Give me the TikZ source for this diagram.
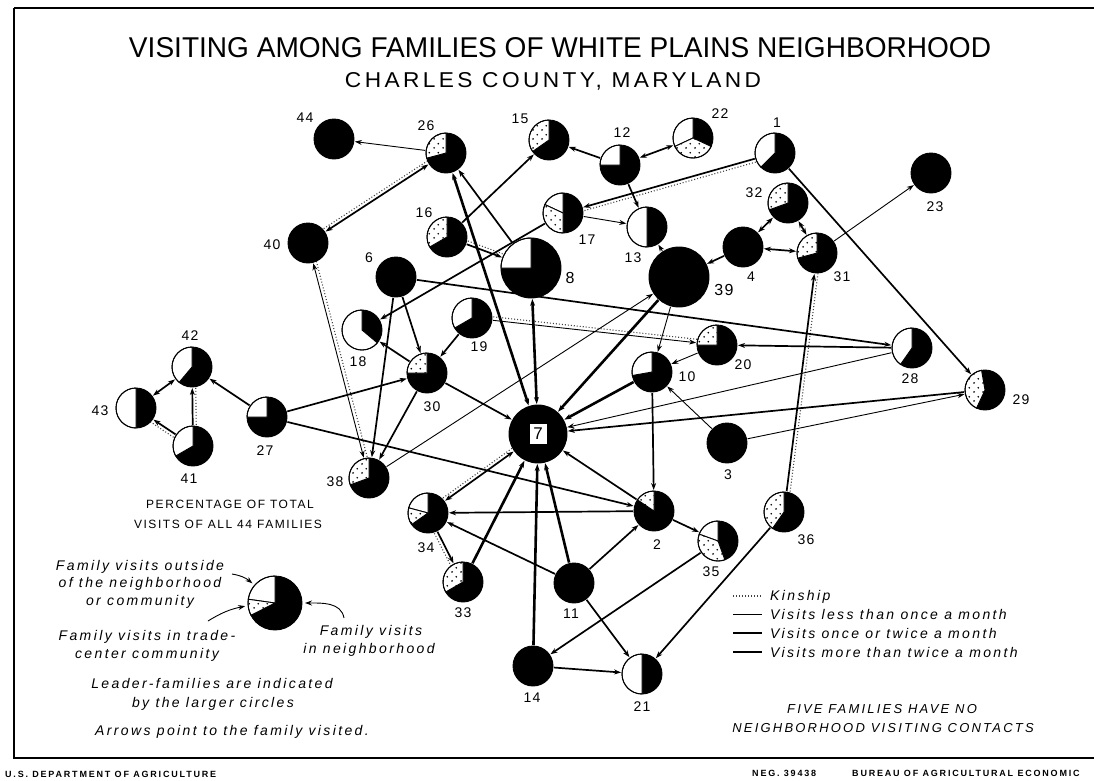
\documentclass[tikz,border=0pt]{standalone}
\usepackage{fontspec}
\setmainfont{Liberation Sans}
\newfontfamily\numfont[LetterSpace=8]{Liberation Sans}
\newfontfamily\legfont[LetterSpace=17]{Liberation Sans}
\newfontfamily\capfont[LetterSpace=13]{Liberation Sans}
\newfontfamily\subfont[LetterSpace=15]{Liberation Sans}
\newfontfamily\footfont[LetterSpace=20]{Liberation Sans}
\usetikzlibrary{arrows.meta,calc,patterns.meta}

\tikzdeclarepattern{
  name=sparsedots,
  type=uncolored,
  bottom left={(0pt,0pt)},
  top right={(9pt,9pt)},
  tile size={(9pt,9pt)},
  code={\fill (2.25pt,2.25pt) circle[radius=1pt]; \fill (6.75pt,6.75pt) circle[radius=1pt];}
}

\newcommand\famdisc[2]{\fill[black] (#1.center) circle[radius=#2];}
\newcommand\wsec[4]{\filldraw[pieline,fill=white] (#1.center) -- ++(#3:#2) arc[start angle=#3,end angle=#4,radius=#2] -- cycle;}
\newcommand\dsec[4]{\filldraw[pieline,fill=white] (#1.center) -- ++(#3:#2) arc[start angle=#3,end angle=#4,radius=#2] -- cycle;
  \fill[pattern=sparsedots] (#1.center) -- ++(#3:#2) arc[start angle=#3,end angle=#4,radius=#2] -- cycle;}
\newcommand\ring[2]{\draw[pieline] (#1.center) circle[radius=#2];}
\newcommand\kinline[3]{\draw[kinl] ($(#1.center)!#3!90:(#2.center)$) -- ($(#2.center)!#3!-90:(#1.center)$);}

\begin{document}
\begin{tikzpicture}[x=1pt,y=1pt,
  fam/.style={circle,inner sep=0pt,outer sep=1pt,minimum size=40pt},
  bigfam/.style={fam,minimum size=60pt},
  lab/.style={inner sep=0pt,font=\numfont\fontsize{14}{14}\selectfont},
  biglab/.style={inner sep=0pt,font=\numfont\fontsize{16}{16}\selectfont},
  thinv/.style={line width=0.9pt},
  medv/.style={line width=1.7pt},
  thickv/.style={line width=2.6pt},
  tip/.style={-{Stealth[length=7pt,width=5pt]}},
  tips/.style={{Stealth[length=7pt,width=5pt]}-{Stealth[length=7pt,width=5pt]}},
  kinl/.style={line width=1.1pt,black!75,dash pattern=on 1pt off 2pt},
  pieline/.style={line width=0.9pt,draw=black},
  leg/.style={inner sep=0pt,font=\legfont\itshape\fontsize{14}{14}\selectfont},
  legcap/.style={inner sep=0pt,font=\capfont\fontsize{12}{12}\selectfont},
  foot/.style={inner sep=0pt,font=\footfont\bfseries\fontsize{9}{9}\selectfont},
]
\useasboundingbox (0,0) rectangle (1094,-780);
\fill[white] (0,0) rectangle (1094,-780);

% ---------- family nodes ----------
\node[fam] (n1) at (775,-153) {};
\node[fam] (n2) at (654,-511) {};
\node[fam] (n3) at (727,-443) {};
\node[fam] (n4) at (743,-247) {};
\node[fam] (n6) at (396,-277) {};
\node[fam,minimum size=58pt] (n7) at (538,-434) {};
\node[bigfam] (n8) at (531,-268) {};
\node[fam] (n10) at (652,-372) {};
\node[fam] (n11) at (574,-583) {};
\node[fam] (n12) at (620,-165) {};
\node[fam] (n13) at (647,-227) {};
\node[fam] (n14) at (533,-666) {};
\node[fam] (n15) at (549,-140) {};
\node[fam] (n16) at (447,-237) {};
\node[fam] (n17) at (563,-213) {};
\node[fam] (n18) at (362,-330) {};
\node[fam] (n19) at (472,-318) {};
\node[fam] (n20) at (717,-345) {};
\node[fam] (n21) at (642,-674) {};
\node[fam] (n22) at (693,-138) {};
\node[fam] (n23) at (931,-173) {};
\node[fam] (n26) at (446,-153) {};
\node[fam] (n27) at (267,-417) {};
\node[fam] (n28) at (912,-348) {};
\node[fam] (n29) at (985,-390) {};
\node[fam] (n30) at (427,-373) {};
\node[fam] (n31) at (817,-253) {};
\node[fam] (n32) at (788,-203) {};
\node[fam] (n33) at (463,-582) {};
\node[fam] (n34) at (428,-513) {};
\node[fam] (n35) at (718,-541) {};
\node[fam] (n36) at (784,-512) {};
\node[fam] (n38) at (369,-478) {};
\node[bigfam] (n39) at (679,-277) {};
\node[fam] (n40) at (308,-243) {};
\node[fam] (n41) at (193,-446) {};
\node[fam] (n42) at (192,-367) {};
\node[fam] (n43) at (136,-408) {};
\node[fam] (n44) at (334,-139) {};
\node[fam,minimum size=54pt,outer sep=3pt] (lp) at (275,-603) {};

% ---------- kinship lines ----------
\kinline{n40}{n26}{3.5pt}
\kinline{n1}{n17}{3.5pt}
\kinline{n16}{n8}{3.5pt}
\kinline{n19}{n20}{3.5pt}
\kinline{n41}{n42}{-3.5pt}
\kinline{n41}{n43}{3.5pt}
\kinline{n38}{n40}{-3.5pt}
\kinline{n34}{n7}{3.5pt}
\kinline{n34}{n33}{-3.5pt}
\kinline{n36}{n31}{-3.5pt}

% ---------- visiting lines ----------
\draw[thinv,tip] (n26) -- (n44);
\draw[medv,tips] (n40) -- (n26);
\draw[medv,tip] (n12) -- (n15);
\draw[medv,tips] (n12) -- (n22);
\draw[medv,tip] (n12) -- (n13);
\draw[medv,tip] (n1) -- (n17);
\draw[medv,tip] (n1) -- (n29);
\draw[thinv,tip] (n17) -- (n13);
\draw[medv,tip] (n17) -- (n18);
\draw[medv,tip] (n16) -- (n8);
\draw[medv,tip] (n16) -- (n15);
\draw[thickv,tips] (n26) -- (n7);
\draw[medv,tip] (n8) -- (n26);
\draw[medv,tip] (n6) -- (n28);
\draw[medv,tip] (n6) -- (n30);
\draw[medv,tip] (n6) -- (n38);
\draw[medv,tip] (n30) -- (n18);
\draw[medv,tip] (n19) -- (n30);
\draw[thinv,tip] (n19) -- (n20);
\draw[medv,tip] (n30) -- (n7);
\draw[medv,tip] (n27) -- (n30);
\draw[medv,tip] (n27) -- (n2);
\draw[medv,tip] (n27) -- (n42);
\draw[medv,tips] (n42) -- (n43);
\draw[medv,tip] (n41) -- (n42);
\draw[medv,tip] (n41) -- (n43);
\draw[medv,tip] (n30) -- (n38);
\draw[thinv,tips] (n38) -- (n40);
\draw[thinv,tip] (n38) -- (n39);
\draw[thickv,tip] (n39) -- (n7);
\draw[thinv,tip] (n39) -- (n10);
\draw[thinv,tip] (n39) -- (n13);
\draw[medv,tip] (n4) -- (n39);
\draw[medv,tips] (n4) -- (n32);
\draw[medv,tips] (n4) -- (n31);
\draw[medv,tips] (n32) -- (n31);
\draw[thinv,tip] (n31) -- (n23);
\draw[medv,tip] (n36) -- (n31);
\draw[thickv,tips] (n8) -- (n7);
\draw[medv,tip] (n28) -- (n20);
\draw[thinv,tip] (n20) -- (n10);
\draw[thinv,tip] (n28) -- (n7);
\draw[medv,tip] (n29) -- (n7);
\draw[thinv,tip] (n3) -- (n29);
\draw[thinv,tip] (n3) -- (n10);
\draw[thickv,tip] (n10) -- (n7);
\draw[medv,tip] (n10) -- (n2);
\draw[thickv,tip] (n11) -- (n7);
\draw[medv,tip] (n11) -- (n2);
\draw[medv,tip] (n11) -- (n34);
\draw[medv,tip] (n11) -- (n21);
\draw[thickv,tip] (n14) -- (n7);
\draw[medv,tip] (n14) -- (n21);
\draw[medv,tip] (n35) -- (n14);
\draw[medv,tip] (n36) -- (n21);
\draw[medv,tip] (n2) -- (n35);
\draw[medv,tip] (n2) -- (n34);
\draw[medv,tip] (n2) -- (n7);
\draw[medv,tips] (n34) -- (n7);
\draw[medv,tip] (n34) -- (n33);
\draw[thickv,tip] (n33) -- (n7);

% ---------- pies ----------
\famdisc{n44}{20}\ring{n44}{20}
\famdisc{n26}{20}\dsec{n26}{20}{90}{195}\ring{n26}{20}
\famdisc{n15}{20}\dsec{n15}{20}{90}{215}\ring{n15}{20}
\famdisc{n12}{20}\wsec{n12}{20}{90}{180}\ring{n12}{20}
\famdisc{n22}{20}\wsec{n22}{20}{90}{205}\dsec{n22}{20}{205}{335}\ring{n22}{20}
\famdisc{n1}{20}\wsec{n1}{20}{90}{225}\ring{n1}{20}
\famdisc{n23}{20}\ring{n23}{20}
\famdisc{n32}{20}\dsec{n32}{20}{90}{200}\ring{n32}{20}
\famdisc{n17}{20}\wsec{n17}{20}{90}{155}\dsec{n17}{20}{155}{270}\ring{n17}{20}
\famdisc{n13}{20}\wsec{n13}{20}{90}{270}\ring{n13}{20}
\famdisc{n16}{20}\dsec{n16}{20}{90}{210}\ring{n16}{20}
\famdisc{n40}{20}\ring{n40}{20}
\famdisc{n8}{30}\wsec{n8}{30}{90}{180}\ring{n8}{30}
\famdisc{n39}{30}\ring{n39}{30}
\famdisc{n4}{20}\ring{n4}{20}
\famdisc{n31}{20}\dsec{n31}{20}{90}{195}\ring{n31}{20}
\famdisc{n6}{20}\ring{n6}{20}
\famdisc{n18}{20}\wsec{n18}{20}{90}{320}\ring{n18}{20}
\famdisc{n19}{20}\wsec{n19}{20}{90}{210}\ring{n19}{20}
\famdisc{n30}{20}\dsec{n30}{20}{90}{180}\ring{n30}{20}
\famdisc{n20}{20}\dsec{n20}{20}{90}{180}\ring{n20}{20}
\famdisc{n10}{20}\wsec{n10}{20}{90}{190}\ring{n10}{20}
\famdisc{n28}{20}\wsec{n28}{20}{90}{235}\ring{n28}{20}
\famdisc{n29}{20}\dsec{n29}{20}{100}{245}\ring{n29}{20}
\famdisc{n7}{29}\ring{n7}{29}
\famdisc{n3}{20}\ring{n3}{20}
\famdisc{n42}{20}\wsec{n42}{20}{90}{230}\ring{n42}{20}
\famdisc{n43}{20}\wsec{n43}{20}{90}{270}\ring{n43}{20}
\famdisc{n41}{20}\wsec{n41}{20}{90}{210}\ring{n41}{20}
\famdisc{n27}{20}\wsec{n27}{20}{90}{180}\ring{n27}{20}
\famdisc{n38}{20}\dsec{n38}{20}{90}{200}\ring{n38}{20}
\famdisc{n34}{20}\wsec{n34}{20}{90}{165}\dsec{n34}{20}{165}{215}\ring{n34}{20}
\famdisc{n33}{20}\dsec{n33}{20}{90}{210}\ring{n33}{20}
\famdisc{n2}{20}\dsec{n2}{20}{90}{146}\ring{n2}{20}
\famdisc{n35}{20}\wsec{n35}{20}{90}{160}\dsec{n35}{20}{160}{290}\ring{n35}{20}
\famdisc{n36}{20}\dsec{n36}{20}{90}{235}\ring{n36}{20}
\famdisc{n11}{20}\ring{n11}{20}
\famdisc{n14}{20}\ring{n14}{20}
\famdisc{n21}{20}\wsec{n21}{20}{90}{270}\ring{n21}{20}
\famdisc{lp}{27}\wsec{lp}{27}{90}{172}\dsec{lp}{27}{172}{207}\ring{lp}{27}

\node[draw,fill=white,line width=1pt,minimum width=18pt,minimum height=21pt,inner sep=0pt,font=\fontsize{17}{17}\selectfont] (b7) at (n7.center) {7};

% ---------- labels ----------
\node[lab] (l44) at (305,-118) {44};
\node[lab] (l26) at (426,-126) {26};
\node[lab] (l15) at (520,-119) {15};
\node[lab] (l12) at (622,-133) {12};
\node[lab] (l22) at (720,-114) {22};
\node[lab] (l1) at (777,-123) {1};
\node[lab] (l32) at (754,-193) {32};
\node[lab] (l23) at (935,-207) {23};
\node[lab] (l16) at (424,-213) {16};
\node[lab] (l17) at (587,-240) {17};
\node[lab] (l13) at (633,-258) {13};
\node[lab] (l40) at (272,-245) {40};
\node[lab] (l6) at (369,-258) {6};
\node[biglab] (l8) at (570,-278) {8};
\node[biglab] (l39) at (724,-290) {39};
\node[lab] (l4) at (751,-277) {4};
\node[lab] (l31) at (842,-277) {31};
\node[lab] (l18) at (358,-362) {18};
\node[lab] (l19) at (479,-347) {19};
\node[lab] (l30) at (432,-407) {30};
\node[lab] (l20) at (743,-365) {20};
\node[lab] (l10) at (687,-377) {10};
\node[lab] (l28) at (910,-379) {28};
\node[lab] (l29) at (1021,-400) {29};
\node[lab] (l3) at (728,-475) {3};
\node[lab] (l42) at (190,-336) {42};
\node[lab] (l43) at (100,-411) {43};
\node[lab] (l41) at (189,-479) {41};
\node[lab] (l27) at (265,-451) {27};
\node[lab] (l38) at (335,-482) {38};
\node[lab] (l34) at (426,-548) {34};
\node[lab] (l2) at (657,-545) {2};
\node[lab] (l35) at (711,-572) {35};
\node[lab] (l36) at (806,-540) {36};
\node[lab] (l33) at (463,-613) {33};
\node[lab] (l11) at (571,-614) {11};
\node[lab] (l14) at (532,-698) {14};
\node[lab] (l21) at (642,-707) {21};

% ---------- title ----------
\node[anchor=base,inner sep=0pt] (title) at (560,-57) {\resizebox{862pt}{20pt}{VISITING AMONG FAMILIES OF WHITE PLAINS NEIGHBORHOOD}};
\node[anchor=base,inner sep=0pt] (subtitle) at (553,-87) {\resizebox{416pt}{15pt}{\subfont CHARLES COUNTY, MARYLAND}};

% ---------- left legend ----------
\node[legcap,anchor=base] (pct1) at (230,-508) {PERCENTAGE OF TOTAL};
\node[legcap,anchor=base] (pct2) at (228,-528) {VISITS OF ALL 44 FAMILIES};
\node[leg,anchor=base] (o1) at (140,-570) {Family visits outside};
\node[leg,anchor=base] (o2) at (140,-587) {of the neighborhood};
\node[leg,anchor=base] (o3) at (140,-605) {or community};
\node[leg,anchor=base] (t1) at (147,-640) {Family visits in trade-};
\node[leg,anchor=base] (t2) at (147,-658) {center community};
\node[leg,anchor=base] (h1) at (371,-635) {Family visits};
\node[leg,anchor=base] (h2) at (369,-653) {in neighborhood};
\node[leg,anchor=base] (ld1) at (212,-688) {Leader-families are indicated};
\node[leg,anchor=base] (ld2) at (213,-707) {by the larger circles};
\node[leg,anchor=base] (ar) at (232,-735) {Arrows point to the family visited.};
\coordinate (ao) at (232,-574);
\coordinate (at) at (208,-621);
\coordinate (an) at (344,-618);
\draw[thinv,tip] (ao) to[bend left=15] (lp.139);
\draw[thinv,tip] (at) to[bend left=10] (lp.186);
\draw[thinv,tip] (an) to[out=100,in=0] (lp.0);

% ---------- right legend ----------
\draw[kinl] (733,-596) -- (762,-596);
\draw[thinv] (733,-614) -- (762,-614);
\draw[medv] (733,-633) -- (762,-633);
\draw[thickv] (733,-652) -- (762,-652);
\node[leg,anchor=base west] (k1) at (770,-600) {Kinship};
\node[leg,anchor=base west] (k2) at (770,-619) {Visits less than once a month};
\node[leg,anchor=base west] (k3) at (770,-638) {Visits once or twice a month};
\node[leg,anchor=base west] (k4) at (770,-657) {Visits more than twice a month};
\node[leg,anchor=base,font=\legfont\itshape\fontsize{13}{13}\selectfont] (f1) at (882,-713) {FIVE FAMILIES HAVE NO};
\node[leg,anchor=base,font=\legfont\itshape\fontsize{13}{13}\selectfont] (f2) at (883,-732) {NEIGHBORHOOD VISITING CONTACTS};

% ---------- frame and footer ----------
\draw[line width=2.5pt] (14,-8) -- (1094,-8);
\draw[line width=2pt] (14,-8) -- (14,-758);
\draw[line width=2.5pt] (13,-758) -- (1094,-758);
\node[foot,anchor=base west] (usda) at (5,-777) {U.S. DEPARTMENT OF AGRICULTURE};
\node[foot,anchor=base west] (neg) at (752,-776) {NEG. 39438};
\node[foot,anchor=base west] (bae) at (852,-776) {BUREAU OF AGRICULTURAL ECONOMIC};
\end{tikzpicture}
\end{document}
